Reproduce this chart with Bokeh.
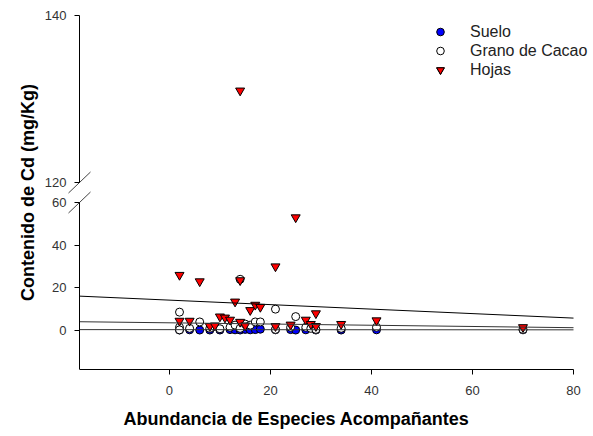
import numpy as np
from bokeh.plotting import figure
from bokeh.models import Range1d, FixedTicker, Legend, LegendItem, Label, LinearAxis
from bokeh.embed import file_html
from bokeh.resources import INLINE

# ---------------- data ----------------
x_ticks = [0, 20, 40, 60, 80]
y_ticks_low = [0, 20, 40, 60]
y_ticks_high = [120, 140]

suelo_x = [2, 4, 6, 8, 10, 12, 13, 14, 15, 16, 17, 18, 21, 24, 25, 27, 29, 34, 41, 70]
suelo_y = [0.2, 0.3, 0.2, 0.2, 0.2, 0.4, 0.3, 0.2, 0.5, 0.3, 0.4, 0.6, 0.3, 0.4, 0.2, 0.3, 0.2, 0.2, 0.3, 0.3]

grano_x = [2, 2, 2, 4, 6, 8, 10, 12, 13, 14, 14, 15, 16, 17, 18, 21, 21, 24, 25, 27, 28, 29, 34, 41, 70]
grano_y = [8.6, 1.5, 0.3, 1.0, 4.0, 1.0, 0.8, 1.5, 2.5, 24.0, 1.0, 3.0, 2.5, 4.0, 4.0, 10.0, 0.5, 1.5, 6.5, 1.5, 1.0, 0.5, 1.0, 1.5, 0.5]

hojas_x = [2, 2, 4, 6, 8, 9, 10, 11, 12, 13, 14, 14, 14, 15, 16, 17, 18, 21, 21, 24, 25, 27, 28, 29, 29, 34, 41, 70]
hojas_y = [26, 4.5, 4.5, 23, 2, 2.3, 6.5, 6, 5, 13.5, 23.5, 4, 131, 2.3, 9.5, 12, 11, 30, 2, 2.7, 53, 5, 3, 8, 2, 3, 4.7, 1.5]

# regression lines (values at both ends of the x axis)
fit_x = [-17.8, 80]
hojas_fit = [16.1, 5.8]
grano_fit = [4.1, 1.3]
suelo_fit = [0.4, 0.3]

# axis segments
X_START, X_END = -17.8, 80
LOW_START, LOW_END = -18.3, 60
HIGH_START, HIGH_END = 120, 140

# ---------------- layout (pixels) ----------------
FONT = "Liberation Sans"
W, H = 592, 434
FRAME_L, FRAME_R, FRAME_T, FRAME_B = 0, 592, 0, 369
AXIS_X_PX, X_END_PX = 79, 573
HIGH_TOP_PX, HIGH_BOTTOM_PX, LOW_TOP_PX = 15, 182, 202

px_x = (X_END_PX - AXIS_X_PX) / (X_END - X_START)
px_low = (FRAME_B - LOW_TOP_PX) / (LOW_END - LOW_START)
px_high = (HIGH_BOTTOM_PX - HIGH_TOP_PX) / (HIGH_END - HIGH_START)

x_lo = X_START - (AXIS_X_PX - FRAME_L) / px_x
x_hi = X_END + (FRAME_R - X_END_PX) / px_x
y_low_top = LOW_START + (FRAME_B - FRAME_T) / px_low
y_high_bottom = HIGH_END - (FRAME_B - HIGH_TOP_PX) / px_high
y_high_top = HIGH_END + (HIGH_TOP_PX - FRAME_T) / px_high

p = figure(width=W, height=H, x_range=Range1d(x_lo, x_hi),
           y_range=Range1d(LOW_START, y_low_top),
           output_backend="svg", toolbar_location=None,
           min_border_left=FRAME_L, min_border_right=W - FRAME_R,
           min_border_top=FRAME_T, min_border_bottom=H - FRAME_B,
           y_axis_location=None)
p.extra_y_ranges = {"upper": Range1d(y_high_bottom, y_high_top)}
p.outline_line_color = None
p.grid.visible = False
p.background_fill_color = "white"
p.border_fill_color = "white"


def style_axis(ax, ticks, standoff):
    ax.ticker = FixedTicker(ticks=ticks)
    ax.axis_line_color = "black"
    ax.axis_line_width = 1
    ax.major_tick_line_color = "black"
    ax.major_tick_out = 5
    ax.major_tick_in = 0
    ax.minor_tick_line_color = None
    ax.major_label_text_font = FONT
    ax.major_label_text_font_size = "13px"
    ax.major_label_text_color = "#333333"
    ax.major_label_standoff = standoff


# x axis
xa = p.xaxis[0]
style_axis(xa, x_ticks, 11)
xa.bounds = (X_START, X_END)
xa.axis_label = "Abundancia de Especies Acompañantes"
xa.axis_label_text_font = FONT
xa.axis_label_text_font_size = "18px"
xa.axis_label_text_font_style = "bold"
xa.axis_label_text_color = "black"
xa.axis_label_standoff = 11

# broken y axis: two segments at the same x position
ax_low = LinearAxis(bounds=(LOW_START, LOW_END), fixed_location=X_START)
style_axis(ax_low, y_ticks_low, 8)
ax_high = LinearAxis(y_range_name="upper", bounds=(HIGH_START, HIGH_END), fixed_location=X_START)
style_axis(ax_high, y_ticks_high, 8)
p.add_layout(ax_low, "left")
p.add_layout(ax_high, "left")

# break marks
hx, hy = 11 / px_x, 10.5
p.segment(x0=[X_START - hx], y0=[LOW_END - hy / px_low], x1=[X_START + hx], y1=[LOW_END + hy / px_low],
          line_color="#444444", line_width=1)
p.segment(x0=[X_START - hx], y0=[HIGH_START - hy / px_high], x1=[X_START + hx], y1=[HIGH_START + hy / px_high],
          line_color="#444444", line_width=1, y_range_name="upper")

# markers
r_s = p.scatter(suelo_x, suelo_y, marker="circle", size=8,
                fill_color="#0000ff", line_color="black", line_width=1)
r_g = p.scatter(grano_x, grano_y, marker="circle", size=8,
                fill_color="white", line_color="black", line_width=1)
hx_arr, hy_arr = np.array(hojas_x), np.array(hojas_y)
low_mask = hy_arr <= LOW_END
high_mask = hy_arr >= HIGH_START
r_h = p.scatter(hx_arr[low_mask], hy_arr[low_mask], marker="inverted_triangle", size=9,
                fill_color="#ff0000", line_color="black", line_width=1)
r_h2 = p.scatter(hx_arr[high_mask], hy_arr[high_mask], marker="inverted_triangle", size=9,
                 fill_color="#ff0000", line_color="black", line_width=1, y_range_name="upper")

# regression lines
p.line(fit_x, hojas_fit, line_color="black", line_width=1)
p.line(fit_x, grano_fit, line_color="#333333", line_width=1)
p.line(fit_x, suelo_fit, line_color="#333333", line_width=1)

# legend
LEG_LEFT_PX, LEG_TOP_PX, ROW = 430, 22, 19
legend = Legend(items=[LegendItem(label="Suelo", renderers=[r_s]),
                       LegendItem(label="Grano de Cacao", renderers=[r_g]),
                       LegendItem(label="Hojas", renderers=[r_h, r_h2])],
                location=(LEG_LEFT_PX - FRAME_L, FRAME_B - (LEG_TOP_PX + 3 * ROW)),
                border_line_color=None, background_fill_alpha=0,
                padding=0, margin=0, spacing=0,
                glyph_width=20, glyph_height=ROW, label_height=ROW,
                label_standoff=20, label_text_font=FONT,
                label_text_font_size="16px", label_text_color="#222222")
p.add_layout(legend)

# y axis title centred on the whole broken axis
p.add_layout(Label(x=X_START - (AXIS_X_PX - 27) / px_x,
                   y=LOW_START + (FRAME_B - 192) / px_low,
                   text="Contenido de Cd (mg/Kg)", angle=np.pi / 2,
                   text_align="center", text_baseline="middle", text_font=FONT,
                   text_font_size="18px", text_font_style="bold", text_color="black"))

open("out.html", "w").write(file_html(p, INLINE))
